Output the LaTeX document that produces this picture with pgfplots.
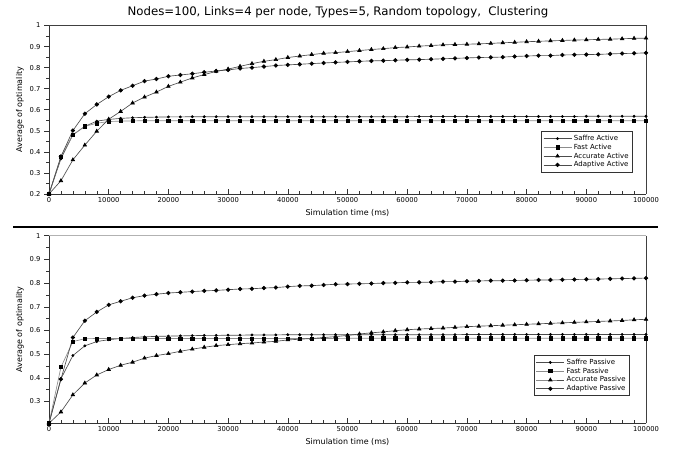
\documentclass[border=0pt]{standalone}
\usepackage{fontspec}
\setmainfont{DejaVu Sans}
\usepackage{pgfplots}
\usepackage{pgfplotstable}
\pgfplotsset{compat=1.18}

\pgfplotstableread{
x s1 f1 a1 d1 s2 f2 a2 d2
0 .200 .200 .200 .200 .208 .208 .208 .208
2000 .367 .378 .263 .378 .396 .445 .256 .394
4000 .481 .481 .362 .501 .494 .553 .328 .570
6000 .521 .521 .432 .581 .535 .565 .378 .641
8000 .546 .536 .498 .625 .553 .566 .412 .678
10000 .554 .544 .555 .662 .561 .566 .435 .708
12000 .559 .546 .592 .692 .566 .566 .453 .723
14000 .562 .547 .632 .714 .570 .566 .466 .738
16000 .564 .548 .660 .736 .573 .566 .483 .747
18000 .565 .548 .684 .746 .575 .566 .494 .753
20000 .566 .548 .711 .759 .576 .566 .502 .758
22000 .566 .548 .731 .765 .577 .566 .512 .761
24000 .567 .548 .751 .771 .578 .566 .521 .764
26000 .567 .548 .767 .778 .579 .566 .529 .767
28000 .567 .548 .782 .784 .579 .566 .536 .769
30000 .567 .548 .793 .789 .580 .566 .540 .772
32000 .567 .548 .806 .796 .580 .566 .544 .775
34000 .567 .548 .819 .800 .581 .566 .547 .776
36000 .567 .548 .830 .805 .581 .566 .551 .779
38000 .567 .548 .838 .810 .581 .566 .554 .781
40000 .567 .548 .848 .813 .582 .566 .560 .785
42000 .567 .548 .855 .816 .582 .566 .563 .788
44000 .567 .548 .862 .819 .582 .566 .566 .789
46000 .567 .548 .868 .822 .582 .566 .570 .792
48000 .567 .548 .871 .825 .582 .566 .574 .795
50000 .567 .548 .876 .827 .582 .567 .579 .796
52000 .567 .548 .881 .830 .582 .567 .585 .797
54000 .567 .548 .886 .832 .582 .567 .590 .798
56000 .567 .548 .890 .833 .582 .567 .594 .800
58000 .567 .548 .895 .835 .582 .567 .599 .801
60000 .567 .548 .898 .837 .582 .567 .603 .803
62000 .568 .548 .902 .838 .582 .567 .606 .803
64000 .568 .548 .905 .840 .582 .567 .608 .804
66000 .568 .548 .908 .842 .582 .567 .610 .806
68000 .568 .548 .910 .844 .582 .567 .613 .806
70000 .568 .548 .911 .846 .583 .567 .616 .808
72000 .568 .548 .913 .848 .583 .567 .618 .809
74000 .568 .548 .915 .849 .583 .567 .620 .810
76000 .568 .548 .918 .850 .583 .567 .622 .810
78000 .568 .548 .920 .853 .583 .567 .624 .811
80000 .568 .548 .923 .855 .583 .567 .626 .812
82000 .568 .548 .925 .857 .583 .567 .628 .813
84000 .568 .548 .927 .857 .583 .567 .630 .813
86000 .568 .548 .929 .860 .583 .567 .632 .814
88000 .568 .548 .931 .861 .583 .567 .634 .815
90000 .569 .548 .932 .862 .583 .567 .636 .816
92000 .569 .548 .934 .863 .583 .567 .638 .817
94000 .569 .548 .935 .865 .583 .567 .640 .818
96000 .569 .548 .937 .867 .583 .567 .642 .819
98000 .569 .548 .939 .868 .583 .567 .645 .820
100000 .569 .548 .940 .870 .583 .567 .647 .821
}\data

\pgfplotsset{
  common/.style={
    scale only axis,
    width=597bp,
    xmin=0, xmax=100000,
    axis x line*=bottom, axis y line*=left,
    axis line style={-, black!80, line width=0.5bp},
    xtick={0,10000,20000,30000,40000,50000,60000,70000,80000,90000,100000},
    xticklabels={0,10000,20000,30000,40000,50000,60000,70000,80000,90000,100000},
    scaled x ticks=false,
    minor x tick num=4,
    minor y tick num=1,
    xtick align=inside,
    ytick align=outside,
    major tick length=5bp,
    minor tick length=3bp,
    tick style={black!80, line width=0.5bp},
    tick label style={font=\fontsize{6.8}{7.5}\selectfont},
    label style={font=\fontsize{8}{9}\selectfont},
    xlabel={Simulation time (ms)},
    ylabel={Average of optimality},
    xlabel style={yshift=0bp},
    ylabel style={yshift=-1bp},
    clip=false,
    legend cell align=left,
    legend style={font=\fontsize{7}{8}\selectfont, draw=black!80, line width=0.5bp,
      inner sep=1.5bp, row sep=-2bp, anchor=south east},
    legend image code/.code={\draw[mark repeat=2,mark phase=2,##1] plot coordinates {(0bp,0bp) (14bp,0bp) (28bp,0bp)};},
  },
  ln/.style={color=black!70, line width=0.65bp, mark options={fill=black, draw=black, solid}},
  sa/.style={ln, mark=*, mark size=1.1bp},
  fa/.style={ln, color=black!45, mark=square*, mark size=1.6bp, mark options={fill=black, draw=black}},
  ac/.style={ln, mark=triangle*, mark size=2bp},
  ad/.style={ln, mark=*, mark size=1.8bp},
}

\begin{document}
\begin{tikzpicture}
\useasboundingbox (0,0) rectangle (679bp,454bp);
\node[font=\fontsize{11.8}{13}\selectfont] at (338bp,442bp) {Nodes=100, Links=4 per node, Types=5, Random topology, \ Clustering};

\begin{axis}[common, at={(49bp,260bp)}, anchor=south west, height=168.5bp,
  ymin=0.2, ymax=1,
  ytick={0.2,0.3,0.4,0.5,0.6,0.7,0.8,0.9,1},
  yticklabels={0.2,0.3,0.4,0.5,0.6,0.7,0.8,0.9,1},
  legend style={at={(0.977,0.13)}}]
\draw[black!75, line width=0.5bp] (rel axis cs:0,1) -- (rel axis cs:1,1) -- (rel axis cs:1,0);
\addplot[sa] table[x=x,y=s1] {\data};
\addplot[fa] table[x=x,y=f1] {\data};
\addplot[ac] table[x=x,y=a1] {\data};
\addplot[ad] table[x=x,y=d1] {\data};
\legend{Saffre Active, Fast Active, Accurate Active, Adaptive Active}
\end{axis}

\draw[black, line width=1.5bp] (13bp,227bp) -- (658bp,227bp);

\begin{axis}[common, at={(49bp,30.7bp)}, anchor=south west, height=187.6bp,
  ymin=0.208, ymax=1,
  ytick={0.3,0.4,0.5,0.6,0.7,0.8,0.9,1},
  yticklabels={0.3,0.4,0.5,0.6,0.7,0.8,0.9,1},
  legend style={at={(0.972,0.146)}}]
\draw[black!30, line width=0.7bp] (rel axis cs:0,1) -- (rel axis cs:1,1);
\draw[black!75, line width=0.5bp] (rel axis cs:1,1) -- (rel axis cs:1,0);
\addplot[sa] table[x=x,y=s2] {\data};
\addplot[fa] table[x=x,y=f2] {\data};
\addplot[ac] table[x=x,y=a2] {\data};
\addplot[ad] table[x=x,y=d2] {\data};
\legend{Saffre Passive, Fast Passive, Accurate Passive, Adaptive Passive}
\end{axis}
\end{tikzpicture}
\end{document}
